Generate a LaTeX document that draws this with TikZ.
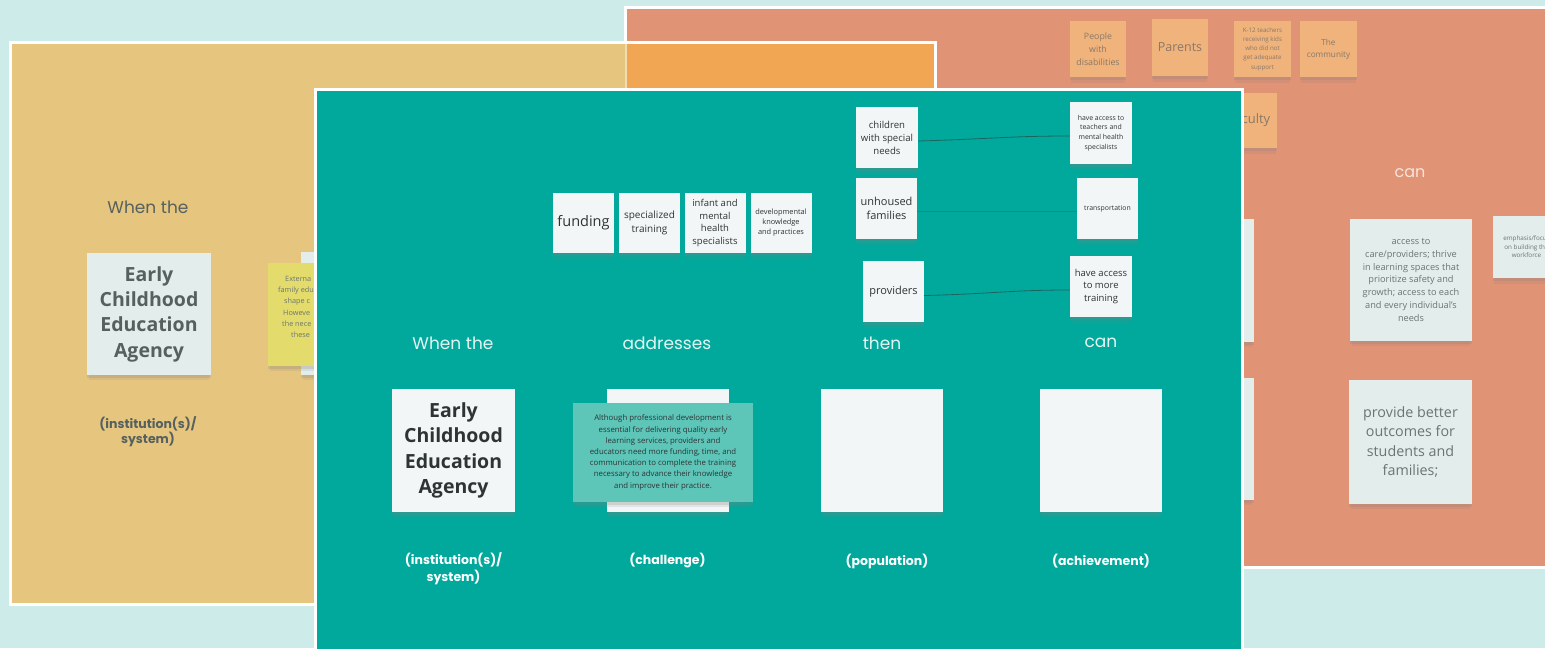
\documentclass[tikz,border=0pt]{standalone}
\usepackage{fontspec}
\setmainfont{Open Sans}
\newfontfamily\pop{Poppins}
\usetikzlibrary{shadows}
\definecolor{bgc}{HTML}{CDECE9}
\definecolor{yelp}{HTML}{E6C57F}
\definecolor{orgp}{HTML}{F0A652}
\definecolor{salp}{HTML}{E19376}
\definecolor{tealp}{HTML}{01A99D}
\definecolor{paper}{HTML}{F3F6F6}
\definecolor{paperb}{HTML}{E3EEEC}
\definecolor{ostick}{HTML}{EFB37B}
\definecolor{ystick}{HTML}{E3DC6D}
\definecolor{tbox}{HTML}{5EC5B9}
\definecolor{ytxt}{HTML}{56615F}
\definecolor{otxt}{HTML}{8A7868}
\definecolor{gtxt}{HTML}{6B7473}
\definecolor{ktxt}{HTML}{2E3434}
\definecolor{tlab}{HTML}{E3F5F2}
\definecolor{slab}{HTML}{F7E4DA}
\definecolor{conn}{HTML}{1F5A54}
\newcommand\fsz[2]{\fontsize{#1}{#2}\selectfont}
\begin{document}
\begin{tikzpicture}[x=1pt,y=-1pt,
  panel/.style={draw=white, line width=3pt},
  stk/.style={inner sep=0pt, align=center,
    drop shadow={shadow xshift=0pt, shadow yshift=-7pt, shadow scale=0.97, opacity=0.14},
    drop shadow={shadow xshift=0pt, shadow yshift=-3pt, shadow scale=1, opacity=0.2}},
  wstk/.style={stk, fill=paper, text=ktxt},
  bstk/.style={stk, fill=paperb, text=gtxt},
  ostk/.style={stk, fill=ostick, text=otxt},
  sq/.style={minimum width=#1pt, minimum height=#1pt},
  rc/.style 2 args={minimum width=#1pt, minimum height=#2pt},
  plab/.style={font=\pop\fsz{17}{20}, text=tlab},
  blab/.style={font=\pop\bfseries\fsz{12.5}{17}, text=white, align=center},
  link/.style={draw=conn, line width=0.8pt, opacity=0.85}
]
\useasboundingbox (0,0) rectangle (1545,648);
\fill[bgc] (0,0) rectangle (1545,648);

% ---------- salmon panel ----------
\draw[panel, fill=salp] (625,7) rectangle (1570,567);
\node[ostk, sq=56, font=\fsz{8.8}{12.7}] (pwd) at (1098,49) {People\\with\\disabilities};
\node[ostk, rc={56}{57}, font=\fsz{12.5}{15}] (par) at (1180,47.5) {Parents};
\node[ostk, rc={57}{56}, font=\fsz{6.2}{9.2}] (k12) at (1262.5,49) {K-12 teachers\\receiving kids\\who did not\\get adequate\\support};
\node[ostk, rc={57}{56}, font=\fsz{8.2}{12}] (comm) at (1328.5,49) {The\\community};
\node[ostk, rc={56}{55}, font=\fsz{13}{15}] (fac) at (1249,120.5) {Faculty};
\node[font=\pop\fsz{16}{20}, text=slab] (scan) at (1410,173) {can};
\node[bstk, rc={122}{123}] (hid1) at (1193,280.5) {};
\node[bstk, rc={122}{122}] (hid2) at (1193,439) {};
\node[bstk, sq=122, font=\fsz{9.2}{12.8}] (acc) at (1411,280) {access to\\care/providers; thrive\\in learning spaces that\\prioritize safety and\\growth; access to each\\and every individual's\\needs};
\node[bstk, rc={67}{62}, font=\fsz{6.3}{8.5}] (emph) at (1526.5,247) {emphasis/focus\\on building the\\workforce};
\node[bstk, rc={123}{124}, font=\fsz{14.3}{19.5}] (prov) at (1410.5,442) {provide better\\outcomes for\\students and\\families;};

% ---------- yellow panel ----------
\draw[panel, fill=yelp] (10,42) rectangle (935,604);
\fill[orgp] (627,43.5) rectangle (933.5,92);
\draw[white, opacity=0.4, line width=2pt] (626,43.5) -- (626,92);
\node[font=\pop\fsz{17}{20}, text=ytxt] (ywhen) at (148,207) {When the};
\node[bstk, rc={124}{122}, font=\bfseries\fsz{19.5}{25.3}, text=ytxt] (yeca) at (149,314) {Early\\Childhood\\Education\\Agency};
\node[font=\pop\bfseries\fsz{12.5}{15}, text=ytxt, align=center] (ylab) at (148,432) {(institution(s)/\\system)};
\node[bstk, sq=123] (ylight) at (362.5,313.5) {};
\node[stk, fill=ystick, rc={132}{103}] (yyel) at (334,314.5) {};
\begin{scope}[every node/.style={anchor=west, inner sep=0pt, font=\fsz{7.3}{9}, text=gtxt}]
\node (f1) at (285,279) {Externa};
\node (f2) at (278,291) {family edu};
\node (f3) at (284,302) {shape c};
\node (f4) at (283,313) {Howeve};
\node (f5) at (282,324) {the nece};
\node (f6) at (291,335) {these};
\end{scope}

% ---------- teal panel ----------
\draw[panel, fill=tealp] (315,89) rectangle (1242,670);
\node[plab] (twhen) at (453,343) {When the};
\node[plab] (taddr) at (667,343) {addresses};
\node[plab] (tthen) at (882,343) {then};
\node[plab] (tcan) at (1101,343) {can};

\node[wstk, rc={61}{60}, font=\fsz{14.5}{17}] (fund) at (583.5,223) {funding};
\node[wstk, rc={61}{60}, font=\fsz{10}{14.3}] (spec) at (649.5,223) {specialized\\training};
\node[wstk, rc={61}{60}, font=\fsz{9.5}{12.7}] (inf) at (715,223) {infant and\\mental\\health\\specialists};
\node[wstk, rc={61}{60}, font=\fsz{7.4}{10}] (dev) at (781,223) {developmental\\knowledge\\and practices};

\node[wstk, rc={62}{61}, font=\fsz{9.6}{13}] (chn) at (887,137.5) {children\\with special\\needs};
\node[wstk, sq=61, font=\fsz{11}{14.3}] (unh) at (886.5,208.5) {unhoused\\families};
\node[wstk, sq=61, font=\fsz{11}{14}] (pro) at (893.5,291.5) {providers};
\node[wstk, sq=62, font=\fsz{6.9}{9.7}] (acct) at (1101,133) {have access to\\teachers and\\mental health\\specialists};
\node[wstk, sq=61, font=\fsz{6.9}{9}] (trn) at (1107.5,208.5) {transportation};
\node[wstk, rc={62}{61}, font=\fsz{9.5}{12.5}] (accm) at (1101,286.5) {have access\\to more\\training};

\draw[link] ([yshift=-3.5pt]chn.east) .. controls (990,139) and (1010,136) .. ([yshift=-3pt]acct.west);
\draw[link, opacity=0.3] ([yshift=-2.5pt]unh.east) -- ([yshift=-2.5pt]trn.west);
\draw[link] ([yshift=-4pt]pro.east) .. controls (990,294) and (1010,290) .. ([yshift=-3.5pt]accm.west);

\node[wstk, rc={123}{123}, font=\bfseries\fsz{19.5}{25.5}, text=ktxt] (teca) at (453.5,450.5) {Early\\Childhood\\Education\\Agency};
\node[wstk, rc={122}{123}] (chal) at (667.5,450.5) {};
\node[stk, fill=tbox, rc={180}{99}, font=\fsz{7.8}{11.2}, text=ktxt] (chtxt) at (663,452.5) {Although professional development is\\essential for delivering quality early\\learning services, providers and\\educators need more funding, time, and\\communication to complete the training\\necessary to advance their knowledge\\and improve their practice.};
\node[wstk, rc={122}{123}] (pop) at (882,450.5) {};
\node[wstk, rc={122}{123}] (ach) at (1101,450.5) {};

\node[blab] (linst) at (453.5,568.5) {(institution(s)/\\system)};
\node[blab] (lchal) at (667.5,561) {(challenge)};
\node[blab] (lpop) at (887,561) {(population)};
\node[blab] (lach) at (1101,561) {(achievement)};
\end{tikzpicture}
\end{document}
